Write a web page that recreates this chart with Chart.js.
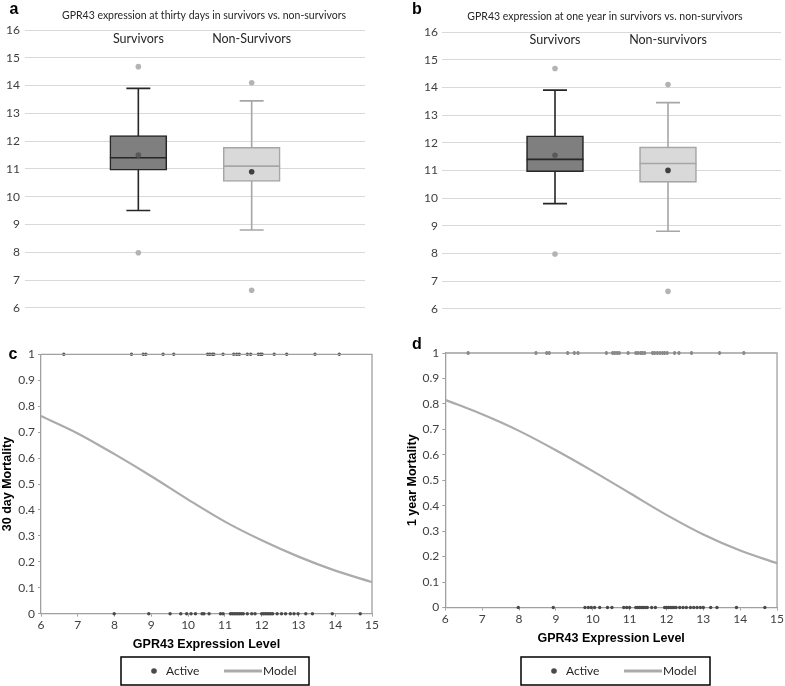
<!DOCTYPE html>
<html>
<head>
<meta charset="utf-8">
<script src="https://cdn.jsdelivr.net/npm/chart.js@4.4.1/dist/chart.umd.min.js"></script>
<style>
html,body{margin:0;padding:0;background:#fff;overflow:hidden;width:785px;height:686px}
.p{position:absolute}
canvas{display:block}
</style>
</head>
<body>
<div class="p" style="left:0;top:0"><canvas id="chartA" width="390" height="320"></canvas></div>
<div class="p" style="left:390px;top:0"><canvas id="chartB" width="395" height="320"></canvas></div>
<div class="p" style="left:0;top:320px"><canvas id="chartC" width="390" height="366"></canvas></div>
<div class="p" style="left:390px;top:320px"><canvas id="chartD" width="395" height="366"></canvas></div>
<script>
// ---------------- DATA ----------------
// Panel a: GPR43 expression at thirty days
const groupsA = ['Survivors', 'Non-Survivors'];
const q1A = [10.95, 10.55];
const q3A = [12.2, 11.78];
const medianA = [11.4, 11.1];
const meanA = [11.5, 10.9];
const whiskerLowA = [9.5, 8.8];
const whiskerHighA = [13.9, 13.45];
const outlierHighA = [14.68, 14.1];
const outlierLowA = [7.98, 6.63];

// Panel b: GPR43 expression at one year
const groupsB = ['Survivors', 'Non-survivors'];
const q1B = [10.95, 10.57];
const q3B = [12.25, 11.85];
const medianB = [11.4, 11.25];
const meanB = [11.55, 11.0];
const whiskerLowB = [9.8, 8.8];
const whiskerHighB = [13.9, 13.45];
const outlierHighB = [14.68, 14.1];
const outlierLowB = [7.98, 6.63];

// Panel c: 30 day mortality (expression levels of patients who died = 1, survived = 0)
const died30 = [6.62, 8.46, 8.78, 8.85, 9.32, 9.61, 10.53, 10.59, 10.66, 10.7, 10.95, 11.24, 11.32, 11.39, 11.61, 11.7, 11.91, 11.97, 12.01, 12.34, 12.68, 13.45, 14.11];
const survived30 = [7.99, 8.93, 9.51, 9.8, 9.96, 10.08, 10.2, 10.38, 10.43, 10.57, 10.88, 10.95, 11.15, 11.2, 11.25, 11.3, 11.35, 11.4, 11.45, 11.5, 11.61, 11.73, 11.82, 12.0, 12.05, 12.1, 12.15, 12.2, 12.25, 12.3, 12.42, 12.54, 12.65, 12.78, 12.88, 12.99, 13.2, 13.38, 13.92, 14.68];
const modelLevels = [6, 7, 8, 9, 10, 11, 12, 13, 14, 15];
const model30 = [0.762, 0.695, 0.615, 0.53, 0.44, 0.355, 0.283, 0.22, 0.166, 0.122];

// Panel d: 1 year mortality
const died1y = [6.62, 8.46, 8.75, 8.82, 9.32, 9.5, 9.6, 10.37, 10.54, 10.6, 10.66, 10.72, 10.96, 11.17, 11.23, 11.3, 11.35, 11.41, 11.62, 11.68, 11.75, 11.82, 11.89, 11.95, 12.02, 12.22, 12.34, 12.68, 13.44, 14.1];
const survived1y = [7.98, 8.93, 9.79, 9.88, 9.96, 10.05, 10.19, 10.4, 10.52, 10.84, 10.92, 11.0, 11.17, 11.22, 11.27, 11.32, 11.37, 11.42, 11.48, 11.6, 11.7, 11.95, 12.0, 12.05, 12.1, 12.15, 12.2, 12.26, 12.36, 12.45, 12.54, 12.65, 12.74, 12.83, 12.92, 13.0, 13.2, 13.37, 13.9, 14.67];
const model1y = [0.816, 0.759, 0.694, 0.618, 0.536, 0.45, 0.364, 0.287, 0.224, 0.174];

// ---------------- STYLE ----------------
const SANS = 'Lato, "Open Sans", sans-serif';
const BOLD = '"Liberation Sans", Arial, sans-serif';
const TICK_COLOR = '#404040';

// ---------------- PLUGINS ----------------
const boxPlotPlugin = {
  id: 'boxPlot',
  beforeDatasetsDraw(chart, args, o) {
    const ctx = chart.ctx, xs = chart.scales.x, ys = chart.scales.y;
    const bars = chart.getDatasetMeta(0).data;
    o.low.forEach((lo, i) => {
      const px = xs.getPixelForValue(i + 1);
      const cap = bars[i].width * o.capRatio / 2;
      ctx.save();
      ctx.strokeStyle = o.colors[i];
      ctx.lineWidth = o.lineWidth;
      ctx.beginPath();
      ctx.moveTo(px, ys.getPixelForValue(lo));
      ctx.lineTo(px, ys.getPixelForValue(o.high[i]));
      [lo, o.high[i]].forEach(v => {
        const py = ys.getPixelForValue(v);
        ctx.moveTo(px - cap, py); ctx.lineTo(px + cap, py);
      });
      ctx.stroke();
      ctx.restore();
    });
  },
  afterDatasetDraw(chart, args, o) {
    if (args.meta.type !== 'bar') return;
    const ctx = chart.ctx, ys = chart.scales.y;
    args.meta.data.forEach((bar, i) => {
      const py = ys.getPixelForValue(o.median[i]);
      ctx.save();
      ctx.strokeStyle = o.colors[i];
      ctx.lineWidth = o.lineWidth;
      ctx.beginPath();
      ctx.moveTo(bar.x - bar.width / 2, py); ctx.lineTo(bar.x + bar.width / 2, py);
      ctx.stroke();
      ctx.restore();
    });
  },
  afterDraw(chart, args, o) {
    const ctx = chart.ctx, xs = chart.scales.x;
    ctx.save();
    ctx.fillStyle = '#262626';
    ctx.font = o.labelFont;
    ctx.textAlign = 'center';
    ctx.textBaseline = 'middle';
    o.labels.forEach((t, i) => ctx.fillText(t, xs.getPixelForValue(i + 1), o.labelY));
    ctx.restore();
  }
};

const panelTextPlugin = {
  id: 'panelText',
  afterDraw(chart, args, o) {
    const ctx = chart.ctx;
    (o.items || []).forEach(t => {
      ctx.save();
      ctx.font = t.font;
      ctx.fillStyle = t.color || '#000';
      ctx.textAlign = t.align || 'center';
      ctx.textBaseline = 'middle';
      ctx.fillText(t.text, t.x, t.y);
      ctx.restore();
    });
  }
};

const framePlugin = {
  id: 'frame',
  afterDraw(chart, args, o) {
    const {ctx, chartArea: a} = chart;
    ctx.save();
    ctx.strokeStyle = o.color;
    ctx.lineWidth = o.width;
    ctx.beginPath();
    ctx.moveTo(a.left, a.top); ctx.lineTo(a.right, a.top); ctx.lineTo(a.right, a.bottom);
    ctx.stroke();
    ctx.restore();
  }
};

const boxLegendPlugin = {
  id: 'boxLegend',
  afterDraw(chart, args, o) {
    const ctx = chart.ctx;
    const ds = chart.data.datasets;
    const cy = o.y + o.h / 2;
    ctx.save();
    ctx.strokeStyle = '#000';
    ctx.lineWidth = 1.5;
    ctx.strokeRect(o.x, o.y, o.w, o.h);
    ctx.fillStyle = ds[0].pointBackgroundColor;
    ctx.beginPath(); ctx.arc(o.x + 33, cy, 2.8, 0, Math.PI * 2); ctx.fill();
    ctx.strokeStyle = ds[1].borderColor;
    ctx.lineWidth = ds[1].borderWidth + 0.8;
    ctx.beginPath(); ctx.moveTo(o.x + 103, cy); ctx.lineTo(o.x + 141, cy); ctx.stroke();
    ctx.fillStyle = '#262626';
    ctx.font = '12px ' + SANS;
    ctx.textBaseline = 'middle';
    ctx.textAlign = 'left';
    ctx.fillText(ds[0].label, o.x + 45, cy);
    ctx.fillText(ds[1].label, o.x + 142, cy);
    ctx.restore();
  }
};

const tickFmt = (v) => String(Number(v.toFixed(1)));

// ---------------- BUILDERS ----------------
function boxChart(id, g, lay) {
  const pts = (arr) => arr.map((v, i) => ({x: i + 1, y: v}));
  return new Chart(document.getElementById(id), {
    type: 'bar',
    data: {
      datasets: [
        {
          label: 'IQR',
          data: g.q1.map((v, i) => ({x: i + 1, y: [v, g.q3[i]]})),
          backgroundColor: ['#7f7f7f', '#d9d9d9'],
          borderColor: ['#262626', '#a6a6a6'],
          borderWidth: 1.6,
          borderSkipped: false,
          barThickness: 57,
          order: 3
        },
        {
          label: 'Mean', type: 'scatter',
          data: pts(g.mean),
          pointBackgroundColor: ['#595959', '#404040'],
          pointBorderWidth: 0, pointRadius: 2.8, order: 1
        },
        {
          label: 'Outliers', type: 'scatter',
          data: [...pts(g.outHigh), ...pts(g.outLow)],
          pointBackgroundColor: '#b3b3b3',
          pointBorderWidth: 0, pointRadius: 2.8, order: 2
        }
      ]
    },
    options: {
      responsive: false, animation: false, events: [],
      layout: {padding: lay.padding},
      plugins: {
        legend: {display: false}, tooltip: {enabled: false},
        boxPlot: {
          low: g.low, high: g.high, median: g.median,
          colors: ['#262626', '#a6a6a6'], lineWidth: 1.6, capRatio: 0.42,
          labels: g.labels, labelY: lay.labelY, labelFont: '12.5px ' + SANS
        },
        panelText: {items: [
          {text: lay.letter, x: lay.letterX, y: 10, font: 'bold 16px ' + BOLD},
          {text: lay.title, x: lay.titleX, y: lay.titleY, font: '10.5px ' + SANS, color: '#262626'}
        ]}
      },
      scales: {
        x: {type: 'linear', min: 0, max: 3, display: false, offset: false},
        y: {
          min: 6, max: 16,
          ticks: {stepSize: 1, color: TICK_COLOR, font: {family: SANS, size: 12}, padding: lay.tickPad},
          grid: {color: '#d9d9d9', drawTicks: false},
          border: {display: false},
          afterFit(s) { s.width = lay.yWidth; }
        }
      }
    },
    plugins: [boxPlotPlugin, panelTextPlugin]
  });
}

function logisticChart(id, died, survived, model, lay) {
  return new Chart(document.getElementById(id), {
    type: 'scatter',
    data: {
      datasets: [
        {
          label: 'Active',
          data: [...died.map(v => ({x: v, y: 1})), ...survived.map(v => ({x: v, y: 0}))],
          pointBackgroundColor: '#4a4a4a', pointBorderWidth: 0, pointRadius: 1.7,
          clip: false, order: 0
        },
        {
          label: 'Model', type: 'line',
          data: modelLevels.map((v, i) => ({x: v, y: model[i]})),
          borderColor: '#ababab', borderWidth: 2.2, pointRadius: 0,
          cubicInterpolationMode: 'monotone', fill: false, order: 1
        }
      ]
    },
    options: {
      responsive: false, animation: false, events: [],
      layout: {padding: lay.padding},
      plugins: {
        legend: {display: false}, tooltip: {enabled: false},
        frame: {color: '#a0a0a0', width: 1.3},
        boxLegend: lay.legend,
        panelText: {items: [
          {text: lay.letter, x: lay.letterX, y: lay.letterY, font: 'bold 16px ' + BOLD}
        ]}
      },
      scales: {
        x: {
          type: 'linear', min: 6, max: 15,
          ticks: {stepSize: 1, color: TICK_COLOR, font: {family: SANS, size: 12}, padding: 1},
          grid: {drawOnChartArea: false, tickLength: 3, color: '#a0a0a0'},
          border: {color: '#a0a0a0', width: 1.3},
          title: {display: true, text: 'GPR43 Expression Level', color: '#000',
                  font: {family: BOLD, size: 12.5, weight: 'bold'}, padding: {top: 0, bottom: 0}},
          afterFit(s) { s.height = lay.xHeight; }
        },
        y: {
          min: 0, max: 1,
          ticks: {stepSize: 0.1, color: TICK_COLOR, font: {family: SANS, size: 12}, padding: 3, callback: tickFmt},
          grid: {drawOnChartArea: false, tickLength: 3, color: '#a0a0a0'},
          border: {color: '#a0a0a0', width: 1.3},
          title: {display: true, text: lay.yTitle, color: '#000',
                  font: {family: BOLD, size: 12.5, weight: 'bold'}, padding: {top: 0, bottom: 0}},
          afterFit(s) { s.width = lay.yWidth; }
        }
      }
    },
    plugins: [framePlugin, boxLegendPlugin, panelTextPlugin]
  });
}

// ---------------- CHARTS ----------------
boxChart('chartA',
  {labels: groupsA, q1: q1A, q3: q3A, median: medianA, mean: meanA, low: whiskerLowA, high: whiskerHighA, outHigh: outlierHighA, outLow: outlierLowA},
  {padding: {left: 0, right: 25, top: 30, bottom: 11}, yWidth: 25, tickPad: 5, labelY: 38.5,
   letter: 'a', letterX: 14, title: 'GPR43 expression at thirty days in survivors vs. non-survivors', titleX: 204, titleY: 16});

boxChart('chartB',
  {labels: groupsB, q1: q1B, q3: q3B, median: medianB, mean: meanB, low: whiskerLowB, high: whiskerHighB, outHigh: outlierHighB, outLow: outlierLowB},
  {padding: {left: 30, right: 2, top: 32, bottom: 11}, yWidth: 22, tickPad: 4, labelY: 40,
   letter: 'b', letterX: 27, title: 'GPR43 expression at one year in survivors vs. non-survivors', titleX: 215, titleY: 17});

logisticChart('chartC', died30, survived30, model30,
  {padding: {left: 0, right: 18, top: 34.3, bottom: 33.5}, xHeight: 38.8, yWidth: 41,
   yTitle: '30 day Mortality', letter: 'c', letterX: 13, letterY: 35,
   legend: {x: 121, y: 337, w: 188, h: 28}});

logisticChart('chartD', died1y, survived1y, model1y,
  {padding: {left: 15.5, right: 7.7, top: 33, bottom: 39.5}, xHeight: 39, yWidth: 39.8,
   yTitle: '1 year Mortality', letter: 'd', letterX: 27, letterY: 25,
   legend: {x: 131, y: 337, w: 189, h: 28}});
</script>
</body>
</html>
